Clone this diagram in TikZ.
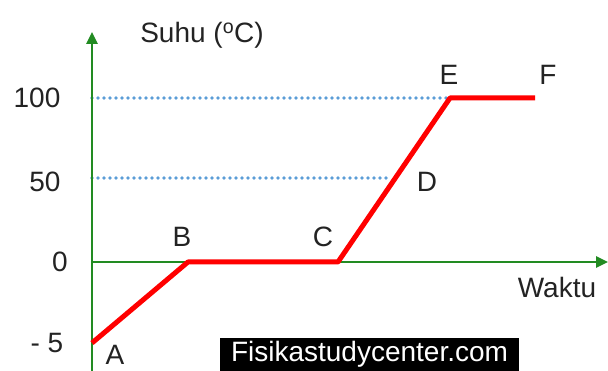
\documentclass[tikz,border=0pt]{standalone}
\usepackage{fontspec}
\setmainfont{Liberation Sans}
\usepackage{tikz}
\usetikzlibrary{arrows.meta,positioning,calc}
\definecolor{axisgreen}{RGB}{34,139,34}
\definecolor{dotblue}{RGB}{91,157,215}
\definecolor{labelgray}{RGB}{35,35,35}
\tikzset{
  axis/.style={axisgreen, line width=2.6pt, -{Triangle[length=12pt,width=11pt]}},
  graf/.style={red, line width=5pt, line join=round},
  guide/.style={dotblue, line width=3.6pt, line cap=round, dash pattern=on 0pt off 6pt},
  lbl/.style={text=labelgray, font=\fontsize{28}{30}\selectfont, inner sep=0pt}
}
\begin{document}
\begin{tikzpicture}[x=1pt,y=1pt]
\useasboundingbox (0,0) rectangle (608,371);
% titik-titik grafik
\coordinate (O) at (92,109);
\coordinate (A) at (92,28);
\coordinate (B) at (188,109);
\coordinate (C) at (338,109);
\coordinate (E) at (450,273);
\coordinate (F) at (535,273);
\coordinate (Y0) at (92,0);
\coordinate (Ytop) at (92,339);
\coordinate (Xend) at (608,109);
\coordinate (Y100) at (92,273);
\coordinate (Y50) at (92,193);
\coordinate (D) at ($(C)!0.5122!(E)$);
% garis bantu
\draw[guide] (Y100) -- (E);
\draw[guide] (Y50) -- ($(D)+(-6,0)$);
% sumbu
\draw[axis] (Y0) -- (Ytop);
\draw[axis] (O) -- (Xend);
% grafik suhu
\draw[graf] (A) -- (B) -- (C) -- (E) -- (F);
% label
\node[lbl] (suhu) at (202,336) {Suhu ($^{\mathrm{o}}$C)};
\node[lbl] (t100) at (37,273) {100};
\node[lbl] (t50) at (45,189) {50};
\node[lbl] (t0) at (60,109) {0};
\node[lbl] (tm5) at (47,28) {- 5};
\node[lbl] (la) at (115,16) {A};
\node[lbl] (lb) at (182,134) {B};
\node[lbl] (lc) at (323,134) {C};
\node[lbl] (ld) at (427,189) {D};
\node[lbl] (le) at (449,296) {E};
\node[lbl] (lf) at (548,296) {F};
\node[lbl] (waktu) at (557,84) {Waktu};
\node[fill=black, text=white, font=\fontsize{28}{30}\selectfont, minimum width=299pt, minimum height=33pt, inner sep=0pt] (web) at (369.5,16.5) {Fisikastudycenter.com};
\end{tikzpicture}
\end{document}
